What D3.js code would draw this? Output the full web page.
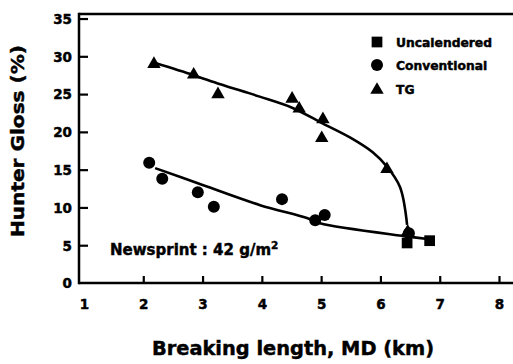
<!DOCTYPE html>
<html><head><meta charset="utf-8">
<script src="https://cdn.jsdelivr.net/npm/d3@7"></script>
<style>
html,body{margin:0;padding:0;background:#fff;}
svg text{font-family:"DejaVu Sans",sans-serif;font-weight:bold;fill:#000;stroke:#000;stroke-width:0.45px;}
</style></head>
<body>
<svg id="chart" width="513" height="364"></svg>
<script>
// ---- data ----
const uncalX = [6.45, 6.83];
const uncalY = [5.3, 5.6];
const convX = [2.10, 2.32, 2.92, 3.19, 4.34, 4.90, 5.06, 6.48];
const convY = [15.9, 13.8, 12.0, 10.1, 11.1, 8.3, 9.0, 6.6];
const tgX = [2.18, 2.85, 3.26, 4.51, 4.63, 5.03, 5.01, 6.11, 6.46];
const tgY = [29.1, 27.7, 25.1, 24.5, 23.2, 21.8, 19.3, 15.2, 6.9];
// fitted curves
const tgFitX = [2.20, 2.85, 3.30, 3.95, 4.51, 5.03, 5.50, 5.87, 6.11, 6.33, 6.45];
const tgFitY = [29.1, 27.5, 26.3, 24.7, 23.2, 21.1, 19.2, 17.3, 15.4, 12.7, 7.7];
const convFitX = [2.20, 2.92, 3.97, 4.76, 4.98, 6.41, 6.83];
const convFitY = [15.2, 13.2, 10.3, 8.6, 7.9, 6.2, 5.8];
const xTicks = [1, 2, 3, 4, 5, 6, 7, 8];
const yTicks = [0, 5, 10, 15, 20, 25, 30, 35];
const legendLabels = ["Uncalendered", "Conventional", "TG"];

const svg = d3.select("#chart");
const x = d3.scaleLinear().domain([0.916, 8.236]).range([79, 513]);
const y = d3.scaleLinear().domain([0, 35.6]).range([283, 14]);

// axes frame
const frame = svg.append("g").attr("stroke", "#000").attr("stroke-width", 2.5).attr("fill", "none");
frame.append("line").attr("x1", x.range()[0]).attr("x2", x.range()[1]).attr("y1", y(0)).attr("y2", y(0));
frame.append("line").attr("x1", x.range()[0]).attr("x2", x.range()[1]).attr("y1", y.range()[1]).attr("y2", y.range()[1]);
frame.append("line").attr("x1", x.range()[0]).attr("x2", x.range()[0]).attr("y1", y(0) + 1.2).attr("y2", y.range()[1] - 1.2);

// x axis ticks & labels
const xAxis = svg.append("g").attr("transform", `translate(0,${y(0)})`)
  .call(d3.axisBottom(x).tickValues(xTicks).tickSizeInner(-7).tickSizeOuter(0).tickPadding(16).tickFormat(d3.format("d")));
xAxis.select(".domain").remove();
xAxis.selectAll(".tick line").attr("stroke-width", 2.2).attr("stroke", "#000")
  .attr("display", d => d === 1 ? "none" : null);
xAxis.selectAll(".tick text").attr("font-size", 13.5).attr("font-family", "DejaVu Sans").attr("font-weight", "bold").attr("fill", "#000");

// y axis ticks & labels
const yAxis = svg.append("g").attr("transform", `translate(${x.range()[0]},0)`)
  .call(d3.axisLeft(y).tickValues(yTicks).tickSizeInner(-9).tickSizeOuter(0).tickPadding(7).tickFormat(d3.format("d")));
yAxis.select(".domain").remove();
yAxis.selectAll(".tick line").attr("stroke-width", 2.2).attr("stroke", "#000")
  .attr("display", d => d === 0 ? "none" : null);
yAxis.selectAll(".tick text").attr("font-size", 13.5).attr("font-family", "DejaVu Sans").attr("font-weight", "bold").attr("fill", "#000").attr("dy", "0.36em");

// titles
svg.append("text").attr("x", 293).attr("y", 355).attr("text-anchor", "middle")
  .attr("font-size", 19.4).text("Breaking length, MD (km)");
svg.append("text").attr("transform", "translate(24,141) rotate(-90)").attr("text-anchor", "middle")
  .attr("font-size", 17).attr("textLength", 192).attr("lengthAdjust", "spacingAndGlyphs").text("Hunter Gloss (%)");

// fitted lines
const line = d3.line().x(d => x(d[0])).y(d => y(d[1])).curve(d3.curveCatmullRom.alpha(0.5));
svg.append("path").datum(d3.zip(tgFitX, tgFitY)).attr("d", line)
  .attr("fill", "none").attr("stroke", "#000").attr("stroke-width", 2.6);
svg.append("path").datum(d3.zip(convFitX, convFitY)).attr("d", line)
  .attr("fill", "none").attr("stroke", "#000").attr("stroke-width", 2.6);

// markers
const tri = d3.symbol().type(d3.symbolTriangle).size(78);
const sq = d3.symbol().type(d3.symbolSquare).size(115);
svg.append("g").selectAll("path").data(d3.zip(tgX, tgY)).join("path")
  .attr("d", tri).attr("transform", d => `translate(${x(d[0])},${y(d[1]) + 1})`).attr("fill", "#000");
svg.append("g").selectAll("circle").data(d3.zip(convX, convY)).join("circle")
  .attr("cx", d => x(d[0])).attr("cy", d => y(d[1])).attr("r", 6).attr("fill", "#000");
svg.append("g").selectAll("path").data(d3.zip(uncalX, uncalY)).join("path")
  .attr("d", sq).attr("transform", d => `translate(${x(d[0])},${y(d[1])})`).attr("fill", "#000");

// legend
const lg = svg.append("g");
const lgY = [42, 65, 89];
lg.append("path").attr("d", sq).attr("transform", `translate(377,${lgY[0]})`);
lg.append("circle").attr("cx", 377).attr("cy", lgY[1]).attr("r", 6);
lg.append("path").attr("d", tri).attr("transform", `translate(377,${lgY[2] + 1})`);
lg.selectAll("text").data(legendLabels).join("text")
  .attr("x", 396).attr("y", (d, i) => lgY[i] + 4.5).attr("font-size", 12.3).text(d => d);

// annotation
const ann = svg.append("text").attr("x", 110).attr("y", 255).attr("font-size", 15);
ann.append("tspan").text("Newsprint : 42 g/m");
ann.append("tspan").attr("font-size", 10.5).attr("dy", -6).text("2");
</script>
</body></html>
